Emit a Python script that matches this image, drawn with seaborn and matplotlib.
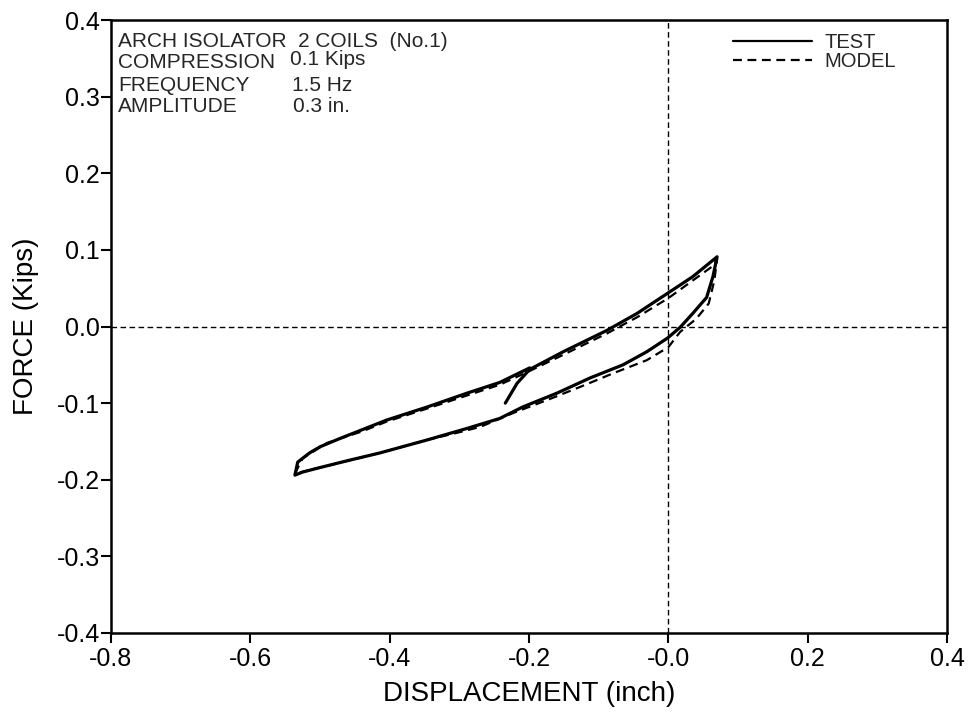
import numpy as np
import pandas as pd
import matplotlib
matplotlib.use("Agg")
import matplotlib.pyplot as plt
from matplotlib.lines import Line2D
import seaborn as sns

# Hysteresis loop of the arch isolator (force vs displacement)
test_start_x = [-0.234, -0.217, -0.199]
test_start_y = [-0.100, -0.074, -0.056]

test_up_x = [-0.536, -0.532, -0.515, -0.500, -0.471, -0.404, -0.346, -0.289,
             -0.242, -0.199, -0.151, -0.088, -0.045, 0.000, 0.035, 0.070]
test_up_y = [-0.194, -0.177, -0.165, -0.157, -0.146, -0.122, -0.105, -0.087,
             -0.073, -0.054, -0.033, -0.005, 0.017, 0.044, 0.065, 0.091]

test_dn_x = [0.070, 0.064, 0.055, 0.035, 0.017, -0.001, -0.031, -0.065, -0.112,
             -0.160, -0.209, -0.242, -0.289, -0.346, -0.414, -0.460, -0.504,
             -0.525, -0.536]
test_dn_y = [0.091, 0.065, 0.038, 0.017, -0.001, -0.015, -0.033, -0.050, -0.067,
             -0.087, -0.105, -0.120, -0.133, -0.148, -0.165, -0.175, -0.185,
             -0.190, -0.194]

model_up_x = [-0.536, -0.525, -0.490, -0.440, -0.404, -0.346, -0.289, -0.242,
              -0.199, -0.151, -0.088, -0.045, 0.000, 0.035, 0.064, 0.070]
model_up_y = [-0.192, -0.172, -0.152, -0.137, -0.124, -0.107, -0.090, -0.076,
              -0.058, -0.037, -0.009, 0.012, 0.037, 0.060, 0.079, 0.088]

model_dn_x = [0.070, 0.066, 0.058, 0.040, 0.017, 0.000, -0.031, -0.079, -0.127,
              -0.174, -0.223, -0.270, -0.300, -0.346, -0.414, -0.504, -0.536]
model_dn_y = [0.088, 0.060, 0.030, 0.010, -0.007, -0.027, -0.044, -0.061, -0.079,
              -0.096, -0.113, -0.131, -0.138, -0.148, -0.165, -0.185, -0.192]

x_ticks = [-0.8, -0.6, -0.4, -0.2, 0.0, 0.2, 0.4]
x_tick_labels = ["-0.8", "-0.6", "-0.4", "-0.2", "-0.0", "0.2", "0.4"]
y_ticks = [-0.4, -0.3, -0.2, -0.1, 0.0, 0.1, 0.2, 0.3, 0.4]
y_tick_labels = ["-0.4", "-0.3", "-0.2", "-0.1", "0.0", "0.1", "0.2", "0.3", "0.4"]

info_labels = ["ARCH ISOLATOR  2 COILS  (No.1)", "COMPRESSION", "FREQUENCY", "AMPLITUDE"]
info_values = ["", "0.1 Kips", "1.5 Hz", "0.3 in."]

# Assemble each record as one continuous path
split = test_up_x.index(-0.151)
close = test_up_x.index(-0.199)
tx = test_start_x + test_up_x[split:] + test_dn_x[1:] + test_up_x[1:close + 1]
ty = test_start_y + test_up_y[split:] + test_dn_y[1:] + test_up_y[1:close + 1]
mx = model_up_x + model_dn_x[1:]
my = model_up_y + model_dn_y[1:]

df = pd.concat([
    pd.DataFrame({"x": tx, "y": ty, "series": "TEST", "run": 0}),
    pd.DataFrame({"x": mx, "y": my, "series": "MODEL", "run": 1}),
], ignore_index=True)

sns.set_style("ticks")
plt.rcParams["font.family"] = ["Liberation Sans", "DejaVu Sans"]

fig = plt.figure(figsize=(9.73, 7.14), dpi=100)
ax = fig.add_axes([111 / 973, 1 - 633 / 714, 836 / 973, 613 / 714])

sns.lineplot(data=df, x="x", y="y", hue="series", style="series", size="series",
             units="run", estimator=None, sort=False,
             palette={"TEST": "black", "MODEL": "black"},
             dashes={"TEST": "", "MODEL": (4, 2.5)},
             sizes={"TEST": 2.3, "MODEL": 1.6},
             legend=False, ax=ax)

# Zero reference lines
ax.axhline(0, color="black", lw=1.0, ls=(0, (4, 2.5)), zorder=1)
ax.axvline(0, color="black", lw=1.0, ls=(0, (4, 2.5)), zorder=1)

ax.set_xlim(-0.8, 0.4)
ax.set_ylim(-0.4, 0.4)
ax.set_xticks(x_ticks)
ax.set_xticklabels(x_tick_labels)
ax.set_yticks(y_ticks)
ax.set_yticklabels(y_tick_labels)
ax.tick_params(axis="both", direction="out", length=7, width=1.5, labelsize=18,
               color="black", labelcolor="black")
ax.tick_params(axis="y", pad=1)
ax.tick_params(axis="x", pad=3)
for sp in ax.spines.values():
    sp.set_visible(True)
    sp.set_linewidth(1.8)
    sp.set_color("black")

ax.set_xlabel("DISPLACEMENT (inch)", fontsize=20, labelpad=7, color="black")
ax.set_ylabel("FORCE (Kips)", fontsize=20, labelpad=13, color="black")

# Test description block
base_y = [0.9555, 0.9212, 0.8847, 0.8504]
val_x = [0.0, 0.214, 0.2165, 0.218]
val_dy = [0.0, 0.005, 0.0, 0.0]
for lab, val, yb, vx, dy in zip(info_labels, info_values, base_y, val_x, val_dy):
    ax.text(0.0084, yb, lab, transform=ax.transAxes, fontsize=15, va="baseline", ha="left")
    if val:
        ax.text(vx, yb + dy, val, transform=ax.transAxes, fontsize=15, va="baseline", ha="left")

handles = [Line2D([], [], color="black", lw=1.6),
           Line2D([], [], color="black", lw=1.6, ls=(0, (4, 2.5)))]
ax.legend(handles, ["TEST", "MODEL"], loc="upper left",
          bbox_to_anchor=((733 - 111) / 836, 0.978), frameon=False, fontsize=14.5,
          handlelength=3.9, handletextpad=0.66, labelspacing=0.0,
          borderpad=0, borderaxespad=0)

fig.savefig("out.png", dpi=100)
